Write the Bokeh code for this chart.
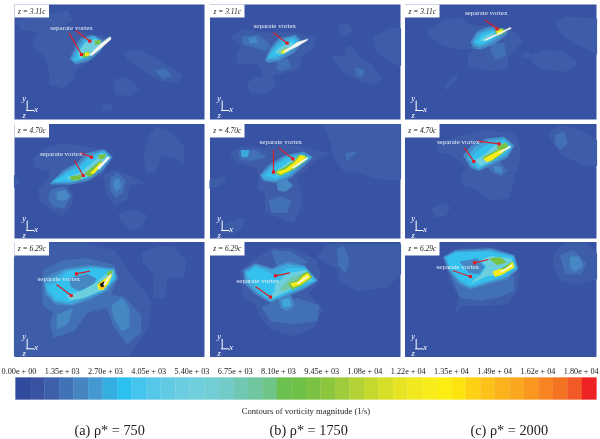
from bokeh.plotting import figure
from bokeh.models import Range1d
from bokeh.embed import file_html
from bokeh.resources import INLINE

# colour bar, one colour per step
bar_colors = ["#304a9e", "#3a52a2", "#3e60ab", "#4272b6", "#4785c2", "#4399d0", "#35aee0", "#2cc0ee",
              "#45c5ee", "#55c8ea", "#62cbe4", "#6acde0", "#70cfdc", "#72ced5", "#72cbc8", "#70c8b4",
              "#6fc69f", "#6fc488", "#6cc04e", "#6fc047", "#7cc242", "#8cc63f", "#a0cb3c", "#b2d235",
              "#c4d82e", "#d6df27", "#e6e422", "#f1e81d", "#f8ec1a", "#fcee12", "#fde40f", "#fdd116",
              "#fcc21a", "#fbb21b", "#faa61e", "#f9971f", "#f78421", "#f47322", "#f15a27", "#ee2324"]
bar_labels = ["0.00e + 00", "1.35e + 03", "2.70e + 03", "4.05e + 03", "5.40e + 03", "6.75e + 03", "8.10e + 03",
              "9.45e + 03", "1.08e + 04", "1.22e + 04", "1.35e + 04", "1.49e + 04", "1.62e + 04", "1.80e + 04"]
bar_title = "Contours of vorticity magnitude (1/s)"
captions = ["(a) ρ* = 750", "(b) ρ* = 1750", "(c) ρ* = 2000"]
z_labels = ["z = 3.11c", "z = 4.70c", "z = 6.29c"]

# contour band colours, low to high (index 10 = yellow, 12 = the white blade, 13 = black core)
bands = ["#3853a4", "#3e5da9", "#4270b5", "#4688c4", "#3fa9dc", "#35c1ee", "#6ccfdf", "#72c8a8",
         "#79c142", "#c4d82e", "#f8ec1a", "#fbb21b", "#f4f6f0", "#111111"]

# contour outlines: (band, outline), lowest band first. row 1 is z = 3.11c
a1 = [(1, [(50,60),(100,50),(200,30),(215,60),(170,85),(110,95),(60,85)]),
      (1, [(100,115),(130,90),(170,85),(230,95),(290,105),(330,110),(300,150),(260,185),(225,205),(220,235),(190,262),(150,250),(145,200),(130,165),(100,135)]),
      (1, [(370,155),(420,150),(490,190),(545,225),(530,245),(480,240),(420,205),(385,180)]),
      (2, [(465,210),(495,205),(510,225),(490,235)]),
      (1, [(340,240),(375,232),(415,265),(385,285),(345,280)]),
      (1, [(305,315),(330,312),(335,328),(310,330)]),
      (3, [(210,175),(225,140),(240,115),(275,105),(310,120),(325,110),(300,150),(265,180),(225,190)]),
      (4, [(215,178),(232,145),(250,118),(280,108),(300,122),(290,145),(262,172),(228,183)]),
      (5, [(225,176),(238,150),(255,124),(282,113),(298,124),(285,145),(260,168),(232,178)]),
      (6, [(235,155),(255,128),(285,118),(300,125),(275,155),(255,168),(238,172)]),
      (8, [(248,160),(265,155),(262,168),(248,170)]),
      (8, [(285,122),(300,120),(295,130),(285,130)]),
      (10, [(255,158),(265,158),(262,165),(255,165)]),
      (12, [(265,165),(300,130),(330,108),(332,116),(305,140),(275,165)])]
b1 = [(1, [(95,110),(130,85),(190,100),(230,95),(290,100),(345,110),(340,140),(300,170),(295,205),(250,215),(215,225),(225,255),(190,280),(150,275),(140,250),(160,235),(190,228),(175,190),(110,190),(110,155),(125,140)]),
      (1, [(415,72),(445,70),(455,90),(435,108),(420,95)]),
      (1, [(395,170),(435,165),(440,140),(460,140),(470,165),(510,190),(540,235),(520,250),(480,240),(430,215)]),
      (2, [(465,205),(490,208),(485,228),(468,225)]),
      (1, [(520,110),(565,85),(612,85),(612,195),(570,185),(530,150)]),
      (2, [(125,110),(175,105),(210,135),(195,150),(160,140),(130,130)]),
      (3, [(145,115),(165,110),(170,125),(150,128)]),
      (2, [(230,185),(260,175),(270,200),(245,210),(230,205)]),
      (3, [(195,180),(210,145),(235,115),(285,105),(305,125),(280,155),(235,180),(205,185)]),
      (4, [(200,175),(215,148),(240,120),(280,110),(295,125),(270,150),(230,175)]),
      (5, [(205,170),(225,145),(250,125),(280,118),(285,128),(265,148),(235,165)]),
      (6, [(225,155),(250,135),(275,128),(265,145),(240,160)]),
      (7, [(235,155),(255,140),(262,145),(245,158)]),
      (10, [(243,155),(258,146),(262,150),(248,158)]),
      (12, [(250,152),(290,125),(323,115),(320,120),(290,138),(252,156)])]
c1 = [(1, [(85,90),(130,60),(180,55),(205,75),(270,80),(330,90),(365,120),(340,150),(320,165),(320,205),(260,210),(205,195),(205,165),(225,145),(180,145),(130,135),(110,120),(85,110)]),
      (1, [(365,160),(385,155),(385,172),(365,172)]),
      (1, [(390,165),(430,150),(490,155),(530,190),(500,212),(430,205),(400,190)]),
      (1, [(465,70),(490,50),(588,55),(588,160),(530,130),(490,105)]),
      (1, [(155,230),(172,225),(160,245),(135,268),(140,250)]),
      (2, [(275,130),(310,130),(315,165),(285,175),(270,150)]),
      (3, [(212,125),(230,95),(265,80),(310,85),(320,100),(280,130),(240,145),(220,142)]),
      (4, [(218,125),(235,100),(265,88),(300,90),(305,100),(270,125),(235,138)]),
      (5, [(225,125),(245,102),(275,92),(295,98),(265,120),(240,130)]),
      (6, [(240,120),(260,105),(280,97),(270,112),(250,122)]),
      (8, [(285,92),(305,85),(312,95),(290,105)]),
      (10, [(290,92),(305,88),(303,98),(292,100)]),
      (12, [(252,118),(330,80),(333,84),(255,121)])]
# row 2, z = 4.70c
a2 = [(1, [(100,115),(135,85),(190,70),(260,80),(320,90),(335,110),(300,165),(250,185),(200,195),(215,225),(215,250),(185,285),(150,265),(120,240),(115,205),(150,170),(145,150),(105,140)]),
      (1, [(430,110),(445,50),(465,22),(510,35),(550,80),(550,130),(520,110),(480,105),(465,155),(440,155)]),
      (1, [(310,165),(345,150),(385,165),(430,190),(385,190),(380,235),(345,250),(320,225)]),
      (2, [(330,175),(350,160),(372,180),(368,215),(345,230),(330,205)]),
      (3, [(340,180),(355,175),(362,195),(350,210),(340,200)]),
      (1, [(355,280),(395,268),(438,285),(420,320),(395,328),(360,300)]),
      (1, [(42,165),(55,185),(42,200)]),
      (2, [(150,210),(190,200),(212,225),(190,262),(160,258),(145,235)]),
      (3, [(170,215),(195,210),(205,230),(185,240),(170,235)]),
      (3, [(150,190),(190,150),(235,125),(255,100),(310,88),(335,110),(305,150),(265,178),(210,190)]),
      (4, [(155,185),(195,155),(240,130),(265,105),(310,92),(330,110),(300,145),(260,172),(210,185)]),
      (5, [(165,182),(200,160),(245,138),(270,110),(310,97),(325,110),(295,140),(255,170),(215,180)]),
      (6, [(200,172),(240,158),(285,120),(300,100),(318,105),(300,130),(265,165),(225,180)]),
      (8, [(210,170),(240,165),(240,175),(215,178)]),
      (8, [(295,105),(315,102),(310,112),(298,115)]),
      (8, [(255,160),(300,122),(305,130),(270,168)]),
      (10, [(272,158),(300,128),(300,135),(280,158)]),
      (12, [(290,142),(322,108),(328,112),(296,147)])]
b2 = [(1, [(90,100),(125,80),(190,85),(240,70),(300,80),(380,100),(340,120),(310,150),(285,170),(295,200),(305,250),(280,305),(210,280),(195,270),(195,220),(170,200),(180,170),(170,140),(110,125)]),
      (1, [(370,12),(600,12),(612,50),(612,175),(540,175),(470,155),(430,150),(400,110),(390,60)]),
      (2, [(435,100),(465,95),(440,120)]),
      (1, [(28,180),(70,170),(75,185),(28,203)]),
      (1, [(75,310),(130,292),(125,320),(95,340),(70,335)]),
      (2, [(205,240),(240,230),(270,240),(260,275),(215,275)]),
      (2, [(115,95),(165,90),(195,110),(150,120),(120,115)]),
      (4, [(122,90),(145,90),(140,108),(125,108)]),
      (3, [(230,190),(255,175),(275,195),(255,212),(235,210)]),
      (3, [(180,165),(205,135),(255,105),(310,95),(335,110),(310,135),(270,170),(225,185),(190,180)]),
      (4, [(185,165),(210,140),(255,110),(305,100),(330,110),(305,130),(265,165),(225,180),(195,177)]),
      (5, [(195,165),(215,145),(260,115),(300,105),(322,112),(300,128),(260,160),(225,172)]),
      (6, [(225,155),(265,125),(295,108),(318,112),(295,128),(255,155),(230,165)]),
      (8, [(225,155),(255,140),(285,120),(295,105),(318,108),(312,122),(280,145),(240,165)]),
      (10, [(232,155),(255,148),(285,125),(300,105),(312,108),(310,118),(295,125),(265,150),(240,160)]),
      (12, [(275,140),(320,110),(323,114),(278,145)])]
c2 = [(1, [(115,70),(170,50),(260,30),(340,40),(360,90),(355,125),(340,170),(325,230),(270,240),(230,205),(190,195),(185,165),(200,140),(150,100),(115,95)]),
      (1, [(445,40),(480,15),(540,30),(590,60),(588,135),(540,130),(480,100)]),
      (2, [(465,45),(490,35),(500,70),(480,85),(465,70)]),
      (1, [(95,265),(130,250),(148,260),(135,285),(105,290)]),
      (2, [(260,130),(295,125),(320,150),(300,165),(270,150)]),
      (3, [(280,138),(300,140),(305,155),(285,155)]),
      (3, [(190,105),(215,75),(260,55),(310,50),(340,75),(320,110),(280,130),(235,150),(210,140)]),
      (4, [(200,110),(225,80),(265,60),(310,55),(335,78),(315,105),(275,125),(235,145),(215,135)]),
      (5, [(210,115),(235,90),(270,70),(310,60),(330,80),(310,100),(270,120),(235,140)]),
      (6, [(225,120),(250,105),(285,75),(315,68),(325,82),(300,100),(265,125),(240,135)]),
      (8, [(248,112),(290,90),(300,82),(315,75),(320,85),(295,105),(270,122)]),
      (8, [(290,80),(315,68),(322,78),(300,90)]),
      (10, [(252,115),(295,92),(310,87),(305,95),(272,118),(258,122)]),
      (12, [(295,95),(328,76),(331,80),(298,98)])]
# row 3, z = 6.29c
a3 = [(1, [(42,50),(70,30),(130,10),(260,10),(340,30),(390,100),(450,180),(445,250),(425,290),(385,345),(280,345),(220,345),(42,345)]),
      (1, [(425,40),(470,20),(520,20),(555,60),(550,110),(500,110),(490,170),(460,170),(460,100),(430,70)]),
      (2, [(130,90),(190,60),(260,55),(340,75),(350,110),(330,165),(370,170),(420,225),(420,275),(380,310),(340,255),(320,200),(260,215),(220,270),(160,290),(150,250),(160,215),(130,195),(125,150)]),
      (3, [(335,195),(365,175),(385,205),(385,260),(365,270),(340,230)]),
      (3, [(170,225),(215,205),(200,250),(170,265)]),
      (3, [(130,115),(190,85),(270,75),(340,85),(350,115),(320,150),(270,175),(215,195),(165,190),(135,160)]),
      (4, [(135,130),(195,90),(270,80),(340,88),(345,112),(315,148),(265,170),(210,190),(165,183),(140,155)]),
      (5, [(140,140),(165,130),(200,95),(270,85),(338,90),(340,115),(305,148),(260,165),(205,182),(165,175)]),
      (3, [(205,115),(260,102),(285,115),(280,130),(235,150),(215,140)]),
      (6, [(200,165),(250,150),(290,125),(325,95),(338,95),(325,130),(300,150),(250,170),(210,178)]),
      (8, [(295,128),(308,122),(312,140),(298,145)]),
      (8, [(322,95),(335,92),(330,105),(322,103)]),
      (10, [(292,135),(312,118),(322,110),(332,105),(322,128),(308,147),(297,147)]),
      (11, [(298,133),(308,124),(312,138),(302,145)]),
      (13, [(300,132),(310,125),(308,137),(303,137)]),
      (12, [(308,132),(330,100),(333,103),(312,136)])]
b3 = [(1, [(120,90),(160,60),(215,25),(280,25),(345,60),(360,100),(350,130),(320,160),(365,205),(340,260),(280,285),(210,265),(185,235),(165,190),(130,170)]),
      (1, [(380,12),(600,12),(612,20),(612,100),(560,140),(470,150),(420,120),(410,85),(350,50)]),
      (2, [(410,25),(430,20),(445,60),(435,95),(415,75)]),
      (2, [(185,200),(220,185),(290,175),(355,195),(350,240),(280,250),(210,240)]),
      (2, [(215,30),(270,35),(320,65),(280,75),(230,75)]),
      (3, [(130,90),(165,70),(215,85),(260,65),(310,75),(350,120),(310,145),(250,170),(210,185),(165,160),(135,130)]),
      (4, [(135,95),(165,75),(215,90),(260,72),(310,80),(345,120),(310,140),(250,165),(210,180),(170,155),(140,125)]),
      (5, [(140,100),(165,80),(200,95),(225,110),(260,85),(315,85),(340,120),(305,135),(250,160),(210,178),(175,150)]),
      (6, [(225,135),(260,100),(315,90),(332,118),(300,130),(245,158),(210,172),(225,150)]),
      (7, [(240,145),(270,115),(310,100),(325,118),(290,130),(250,150)]),
      (8, [(265,130),(290,122),(310,100),(322,95),(333,110),(300,135),(275,145)]),
      (10, [(272,130),(292,125),(312,105),(322,100),(328,110),(300,130),(278,138)]),
      (12, [(290,127),(322,105),(324,109),(292,131)]),
      (3, [(235,175),(270,165),(280,195),(260,210),(240,200)]),
      (4, [(245,180),(265,175),(270,195),(250,200)])]
c3 = [(1, [(130,50),(170,25),(270,20),(340,45),(355,105),(350,150),(320,190),(260,195),(180,195),(165,225),(175,170),(150,120)]),
      (1, [(460,40),(490,10),(560,10),(588,40),(588,115),(530,130),(480,120),(460,80)]),
      (2, [(480,45),(520,30),(555,70),(540,100),(495,100)]),
      (3, [(510,50),(535,50),(545,75),(525,92),(510,80)]),
      (2, [(150,100),(210,130),(340,110),(340,150),(290,170),(240,180),(180,170)]),
      (3, [(130,50),(165,30),(270,25),(340,45),(352,85),(320,115),(260,130),(210,145),(175,130),(145,90)]),
      (4, [(135,50),(165,35),(270,30),(338,48),(348,85),(315,110),(260,125),(210,140),(180,125),(150,90)]),
      (5, [(140,52),(165,38),(265,35),(335,50),(345,82),(310,105),(260,120),(210,135),(180,118),(155,90)]),
      (3, [(180,65),(230,55),(250,80),(235,100),(205,95)]),
      (6, [(215,125),(260,105),(300,105),(340,75),(330,55),(270,48),(245,60),(260,80),(240,105)]),
      (8, [(270,55),(300,52),(315,65),(290,72)]),
      (8, [(280,95),(300,88),(335,65),(340,78),(310,98),(285,108)]),
      (10, [(278,95),(295,88),(315,88),(335,67),(340,80),(305,100),(285,107)]),
      (12, [(300,92),(335,72),(336,76),(302,96)])]
shapes = [[a1, b1, c1], [a2, b2, c2], [a3, b3, c3]]

# red pointers, tail then head, and where the "separate vortex" label sits
arrows = [[[((205,97),(243,162)), ((225,90),(268,122))], [((218,96),(260,128))], [((252,58),(290,85))]],
          [[((222,120),(248,165)), ((240,97),(273,110))], [((219,88),(219,155)), ((234,82),(277,115))], [((232,62),(296,70)), ((192,82),(220,123))]],
          [[((268,92),(228,100)), ((168,132),(212,165))], [((268,97),(225,106)), ((165,138),(210,170))], [((264,57),(222,67)), ((156,90),(210,108))]]]
vortex_label = [[(213,82), (223,76), (257,38)],
                [(182,100), (241,64), (173,65)],
                [(175,114), (172,120), (172,80)]]

# page layout, px
crop_x = [0, 200, 400]
crop_y = [0, 120, 240]
panel_x = [(14, 204), (209.5, 400), (404.5, 596)]
panel_y = [(4, 119), (123.5, 238), (241.5, 356.5)]
box_y = [(4, 17), (123.5, 137), (241.5, 255)]
box_w = 34.5
triad_x = [80, 65, 47]
triad_y = [330, 330, 325]
bar_left, bar_right, bar_top, bar_bottom = 15, 596, 377, 399
label_first, label_step, label_y = 18.5, 43.25, 371
caption_x = [74, 269, 470]

serif = "Liberation Serif"

# the reference is a soft, low-res scan, so a small blur over the whole plot
p = figure(width=600, height=439, x_range=Range1d(0, 600), y_range=Range1d(439, 0),
           output_backend="svg", toolbar_location=None, x_axis_location=None, y_axis_location=None,
           min_border=0, styles={"filter": "blur(0.6px)"})
p.grid.visible = False
p.outline_line_color = None
p.background_fill_color = "white"
p.border_fill_color = "white"

for r in range(3):
    for c in range(3):
        x0, x1 = panel_x[c]
        y0, y1 = panel_y[r]
        ox, oy = crop_x[c], crop_y[r]
        p.quad(left=[x0], right=[x1], top=[y0], bottom=[y1], fill_color=bands[0], line_color=None)

        # contour bands, crop coords are 3x the page
        xs, ys, cols, widths = [], [], [], []
        for band, outline in shapes[r][c]:
            xs.append([min(max(ox + q[0] / 3, x0), x1) for q in outline])
            ys.append([min(max(oy + q[1] / 3, y0), y1) for q in outline])
            cols.append(bands[band])
            widths.append(0.2 if band == 12 else 1.2)
        p.patches(xs, ys, fill_color=cols, line_color=cols, line_width=widths, line_join="round")

        # white z label box
        p.quad(left=[x0], right=[x0 + box_w], top=[box_y[r][0]], bottom=[box_y[r][1]], fill_color="white", line_color=None)
        p.text([x0 + box_w / 2], [(box_y[r][0] + box_y[r][1]) / 2], text=[z_labels[r]], text_font=serif,
               text_font_style="italic", text_font_size="7.5px", text_color="#222222",
               text_align="center", text_baseline="middle")

        # y/x/z triad
        tx = ox + triad_x[c] / 3
        ty = oy + triad_y[r] / 3
        p.line([tx, tx], [ty - 10, ty], line_color="white", line_width=1)
        p.line([tx - 1, tx + 7], [ty, ty], line_color="white", line_width=1)
        p.text([tx - 3, tx + 9, tx - 3], [ty - 13, ty - 2, ty + 4], text=["y", "x", "z"], text_font=serif,
               text_font_style="italic", text_font_size="8.5px", text_color="white",
               text_align="center", text_baseline="middle")

        # pointers
        for tail, head in arrows[r][c]:
            p.line([ox + tail[0] / 3, ox + head[0] / 3], [oy + tail[1] / 3, oy + head[1] / 3],
                   line_color="#d4202c", line_width=1.2)
            p.scatter([ox + head[0] / 3], [oy + head[1] / 3], size=3.2, marker="square",
                      fill_color="#e01b24", line_color=None)
        lx, ly = vortex_label[r][c]
        p.text([ox + lx / 3], [oy + ly / 3], text=["separate vortex"], text_font=serif, text_font_size="7px",
               text_color="#e6eef8", text_align="center", text_baseline="middle")

# colour bar strip
step = (bar_right - bar_left) / len(bar_colors)
p.quad(left=[bar_left + i * step for i in range(len(bar_colors))],
       right=[bar_left + (i + 1) * step for i in range(len(bar_colors))],
       top=bar_top, bottom=bar_bottom, fill_color=bar_colors, line_color=bar_colors, line_width=0.3)
p.text([label_first + i * label_step for i in range(len(bar_labels))], [label_y] * len(bar_labels), text=bar_labels,
       text_font=serif, text_font_size="8.2px", text_color="#222222", text_align="center", text_baseline="middle")
p.text([305.5], [410.7], text=[bar_title], text_font=serif, text_font_size="8.6px", text_color="#222222",
       text_align="center", text_baseline="middle")
p.text(caption_x, [429, 429, 429], text=captions, text_font=serif, text_font_size="14.3px", text_color="#222222",
       text_align="left", text_baseline="middle")

open("out.html", "w").write(file_html(p, INLINE))
